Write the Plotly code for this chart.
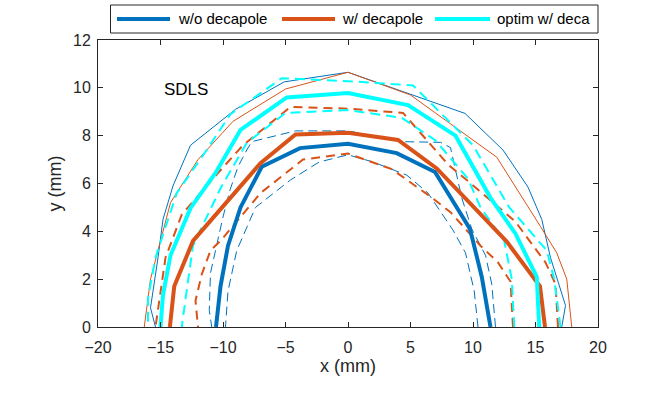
import plotly.graph_objects as go

# dynamic aperture outlines, x (mm) / y (mm), traced right -> top -> left
# w/o decapole
wo_mean_x = [11.4, 10.7, 9.76, 8.16, 6.96, 3.9, 0, -3.84, -6.9, -8.6, -9.6, -10.2, -10.56]
wo_mean_y = [0, 2.1, 4.1, 5.45, 6.48, 7.27, 7.66, 7.48, 6.7, 5.0, 3.4, 1.7, 0]
wo_max_x = [17.1, 17.4, 16.2, 15.5, 14.4, 12.4, 9.36, 0, -5.1, -9.0, -12.6, -14.0, -14.8, -15.2, -15.8, -15.4]
wo_max_y = [0, 0.9, 2.9, 4.5, 5.85, 7.4, 8.93, 10.65, 10.25, 9.1, 7.6, 5.9, 4.5, 2.9, 0.8, 0]
wo_hi_x = [11.8, 11.5, 11.0, 9.9, 9.1, 8.2, 7.4, 4.4, 0, -4.2, -7.7, -8.1, -8.8, -9.44, -10.0, -10.4, -11.0, -11.1, -10.9]
wo_hi_y = [0, 1.8, 3.0, 4.1, 5.4, 7.5, 7.72, 7.75, 8.2, 8.2, 7.75, 7.4, 6.7, 5.73, 4.6, 3.64, 2.26, 0.7, 0]
wo_lo_x = [10.4, 10.1, 9.4, 8.4, 6.4, 4.7, 2.0, 0, -2.3, -4.6, -7.4, -8.9, -9.6, -9.8]
wo_lo_y = [0, 1.5, 3.1, 4.05, 5.6, 6.35, 6.9, 7.2, 6.9, 6.15, 5.0, 3.2, 1.5, 0]

# w/ decapole
w_mean_x = [15.76, 15.36, 12.7, 7.1, 4.0, 0, -4.2, -7.0, -12.4, -13.9, -14.25]
w_mean_y = [0, 1.7, 3.57, 6.63, 7.82, 8.12, 8.05, 6.85, 3.6, 1.7, 0]
w_max_x = [17.9, 17.5, 16.7, 15.4, 11.9, 5.0, 0, -5.0, -9.2, -12.0, -14.2, -15.8, -16.3]
w_max_y = [0, 2.0, 3.1, 4.2, 7.1, 9.7, 10.65, 9.95, 8.6, 7.0, 5.2, 2.0, 0]
w_hi_x = [16.8, 16.6, 15.8, 13.4, 10.5, 8.0, 4.4, 0, -4.6, -8.4, -10.3, -13.3, -14.6, -15.0, -15.4]
w_hi_y = [0, 1.8, 2.7, 4.4, 5.7, 6.8, 8.95, 9.13, 9.2, 7.6, 6.5, 4.7, 2.9, 1.5, 0]
w_lo_x = [13.2, 13.0, 12.0, 10.6, 8.2, 6.6, 3.5, 0, -3.6, -7.0, -10.2, -11.0, -11.7, -12.2, -12.0]
w_lo_y = [0, 1.9, 2.7, 3.4, 4.8, 5.45, 6.6, 7.25, 7.0, 5.6, 3.6, 3.2, 2.2, 1.1, 0]

# optim w/ deca
opt_mean_x = [15.3, 15.1, 13.4, 11.4, 8.6, 4.8, 0, -4.9, -8.6, -10.6, -12.6, -14.2, -14.8, -15.0]
opt_mean_y = [0, 2.1, 3.9, 5.4, 8.0, 9.28, 9.78, 9.6, 8.24, 6.44, 4.97, 3.0, 1.34, 0]
opt_hi_x = [17.0, 16.5, 15.9, 12.9, 10.0, 5.2, 0, -5.3, -9.4, -11.7, -13.7, -15.4, -16.0, -16.0]
opt_hi_y = [0, 2.0, 3.2, 5.0, 7.6, 10.1, 10.28, 10.4, 8.9, 7.1, 5.6, 2.9, 1.2, 0]
opt_lo_x = [13.3, 13.1, 12.5, 10.6, 9.6, 7.0, 4.3, 0, -5.0, -8.1, -10.2, -12.4, -12.9, -13.3]
opt_lo_y = [0, 2.0, 3.6, 5.0, 6.2, 7.8, 8.75, 9.07, 8.95, 7.7, 5.8, 3.4, 1.55, 0]

legend_names = ["w/o decapole", "w/ decapole", "optim w/ deca"]

BLUE = "#0072BD"
ORANGE = "#D95319"
CYAN = "#00FFFF"
FONT = "Liberation Sans, Arial, sans-serif"

fig = go.Figure()


def add_line(x, y, color, width, dash="solid", name=None):
    fig.add_trace(go.Scatter(
        x=x, y=y, mode="lines",
        line=dict(color=color, width=width, dash=dash),
        name=name, showlegend=False, hoverinfo="skip",
    ))


# thin outer / dashed bands first, thick means on top
add_line(wo_max_x, wo_max_y, BLUE, 1)
add_line(w_max_x, w_max_y, ORANGE, 1)
add_line(wo_hi_x, wo_hi_y, BLUE, 1, "9px,5px")
add_line(wo_lo_x, wo_lo_y, BLUE, 1, "9px,5px")
add_line(w_hi_x, w_hi_y, ORANGE, 2, "9px,6px")
add_line(w_lo_x, w_lo_y, ORANGE, 2, "9px,6px")
add_line(opt_hi_x, opt_hi_y, CYAN, 2, "10px,6px")
add_line(opt_lo_x, opt_lo_y, CYAN, 2, "10px,6px")

add_line(wo_mean_x, wo_mean_y, BLUE, 4, name=legend_names[0])
add_line(w_mean_x, w_mean_y, ORANGE, 4, name=legend_names[1])
add_line(opt_mean_x, opt_mean_y, CYAN, 4, name=legend_names[2])

fig.add_annotation(
    x=-13.0, y=9.95, text="SDLS", showarrow=False,
    font=dict(family=FONT, size=17, color="#000000"),
)

# matlab-style legend box above the axes (paper coords of the plot area)
W, H = 500.0, 287.0
def px(v):
    return (v - 98) / W
def py(v):
    return (327 - v) / H

fig.add_shape(type="rect", xref="paper", yref="paper",
              x0=px(110.5), x1=px(598), y0=py(33), y1=py(5),
              line=dict(color="#262626", width=1), fillcolor="white")
legend_cols = [(117, 170, 176), (282, 335, 340), (435, 490, 495)]
for (lx0, lx1, tx), name, col in zip(legend_cols, legend_names, [BLUE, ORANGE, CYAN]):
    fig.add_shape(type="line", xref="paper", yref="paper",
                  x0=px(lx0), x1=px(lx1), y0=py(19), y1=py(19),
                  line=dict(color=col, width=4))
    fig.add_annotation(xref="paper", yref="paper", x=px(tx), y=py(19),
                       xanchor="left", yanchor="middle", showarrow=False,
                       text=name, font=dict(family=FONT, size=15, color="#000000"))

axis_common = dict(
    showgrid=False, zeroline=False, automargin=False,
    showline=True, linecolor="#262626", linewidth=1, mirror="ticks",
    ticks="inside", ticklen=5, tickcolor="#262626",
    tickfont=dict(family=FONT, size=16, color="#262626"),
)

fig.update_layout(
    width=664, height=399,
    margin=dict(l=98, r=66, t=40, b=72, autoexpand=False),
    paper_bgcolor="white", plot_bgcolor="white",
    font=dict(family=FONT, color="#262626"),
    showlegend=False,
    xaxis=dict(range=[-20, 20], dtick=5, ticklabelstandoff=6,
               title=dict(text="x (mm)", font=dict(size=18), standoff=4),
               **axis_common),
    yaxis=dict(range=[0, 12], dtick=2, ticklabelstandoff=3,
               title=dict(text="y (mm)", font=dict(size=18), standoff=6),
               **axis_common),
)

# drop the default 8px body margin so the figure fills the window
fig.write_html("out.html", config={"displayModeBar": False},
               post_script="document.body.style.margin = '0';")
